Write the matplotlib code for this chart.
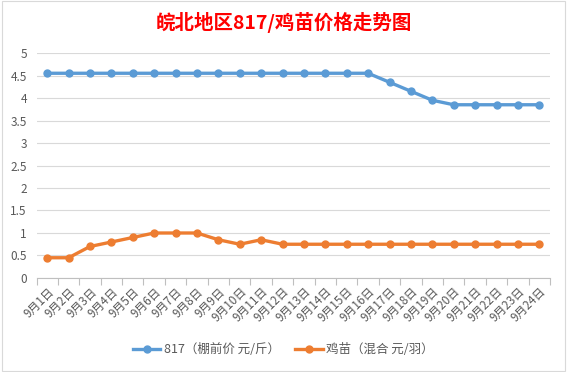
import matplotlib
matplotlib.use("Agg")
import matplotlib.pyplot as plt
from matplotlib.patches import Rectangle

plt.rcParams['font.family'] = ['Noto Sans CJK SC', 'DejaVu Sans']

dates = [f"9月{i}日" for i in range(1, 25)]
price_817 = [4.55]*16 + [4.35, 4.15, 3.95, 3.85, 3.85, 3.85, 3.85, 3.85]
price_chick = [0.45, 0.45, 0.7, 0.8, 0.9, 1.0, 1.0, 1.0, 0.85, 0.75, 0.85, 0.75,
               0.75, 0.75, 0.75, 0.75, 0.75, 0.75, 0.75, 0.75, 0.75, 0.75, 0.75, 0.75]
label_817 = "817（棚前价 元/斤）"
label_chick = "鸡苗（混合 元/羽）"
title = "皖北地区817/鸡苗价格走势图"
yticks = [0, 0.5, 1, 1.5, 2, 2.5, 3, 3.5, 4, 4.5, 5]

fig = plt.figure(figsize=(5.67, 3.72), dpi=100)
fig.patch.set_facecolor('white')
fig.add_artist(Rectangle((0.003, 0.003), 0.994, 0.994, transform=fig.transFigure,
                         fill=False, edgecolor='#d9d9d9', lw=0.8))
ax = fig.add_axes([0.0644, 0.2527, 0.9056, 0.6048])
x = list(range(len(dates)))
ax.plot(x, price_817, color='#5B9BD5', lw=2.4, marker='o', ms=5, label=label_817)
ax.plot(x, price_chick, color='#ED7D31', lw=2.4, marker='o', ms=5, label=label_chick)

ax.set_xlim(-0.5, len(dates) - 0.5)
ax.set_ylim(0, 5)
ax.set_yticks(yticks)
ax.set_yticklabels([f"{v:g}" for v in yticks], color='#595959', fontsize=8.5)
ax.tick_params(axis='y', length=0, pad=7)
ax.grid(axis='y', color='#d9d9d9', lw=0.8)
ax.set_axisbelow(True)

ax.set_xticks(x)
ax.set_xticklabels(dates, rotation=45, ha='right', rotation_mode='anchor',
                   color='#595959', fontsize=8.5)
ax.tick_params(axis='x', length=0, pad=5)
ax.set_xticks([i - 0.5 for i in range(len(dates) + 1)], minor=True)
ax.tick_params(axis='x', which='minor', length=5, color='#bfbfbf', width=0.8)

for s in ['top', 'right', 'left']:
    ax.spines[s].set_visible(False)
ax.spines['bottom'].set_color('#bfbfbf')
ax.spines['bottom'].set_linewidth(0.8)

fig.text(0.5, 0.94, title, ha='center', va='center', color='#FF0000',
         fontsize=14, fontweight='bold')
leg = fig.legend(loc='center', bbox_to_anchor=(0.5, 0.06), ncol=2, frameon=False,
                 fontsize=9, handlelength=2.2, handletextpad=0.3, columnspacing=1.2)
for t in leg.get_texts():
    t.set_color('#595959')

fig.savefig('out.png', dpi=100)
